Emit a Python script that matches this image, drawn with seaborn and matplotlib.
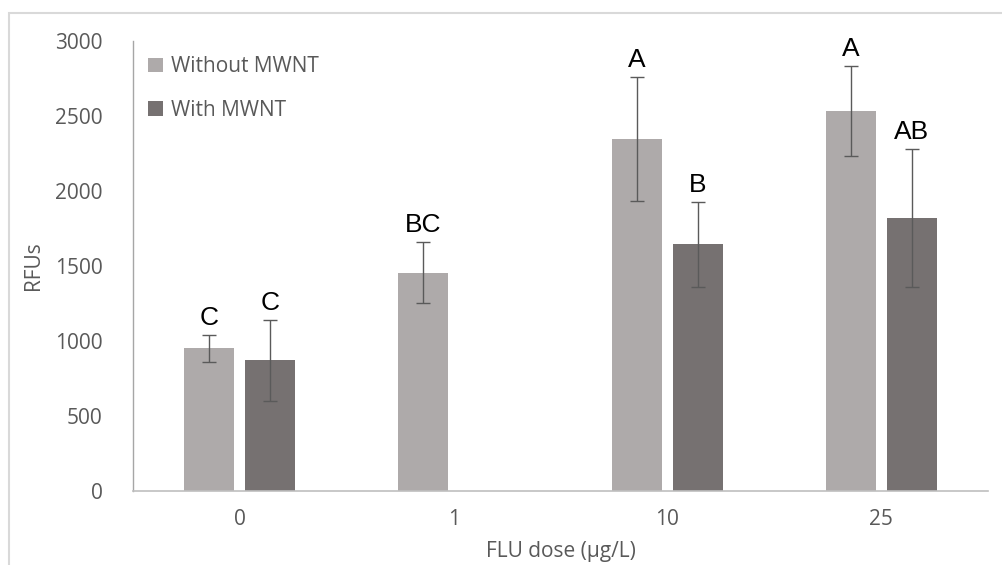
import numpy as np
import pandas as pd
import seaborn as sns
import matplotlib.pyplot as plt
from matplotlib.patches import Rectangle

doses = ['0', '1', '10', '25']
series = ['Without MWNT', 'With MWNT']
without_mwnt = [953, 1455, 2347, 2533]
without_err = [90, 205, 415, 300]
with_mwnt = [873, np.nan, 1645, 1820]
with_err = [270, np.nan, 283, 463]
letters_without = ['C', 'BC', 'A', 'A']
letters_with = ['C', '', 'B', 'AB']

colors = {'Without MWNT': '#aeaaaa', 'With MWNT': '#767171'}
text_grey = '#595959'

sns.set_theme(style='white')
plt.rcParams['font.family'] = ['Open Sans', 'DejaVu Sans']

rows = []
for d, v in zip(doses, without_mwnt):
    rows.append({'dose': d, 'group': 'Without MWNT', 'RFUs': v})
for d, v in zip(doses, with_mwnt):
    if not np.isnan(v):
        rows.append({'dose': d, 'group': 'With MWNT', 'RFUs': v})
df = pd.DataFrame(rows)

fig = plt.figure(figsize=(10.02, 5.65), dpi=100)
ax = fig.add_axes([0.1327, 0.131, 0.8533, 0.7964])

sns.barplot(data=df, x='dose', y='RFUs', hue='group', order=doses,
            hue_order=series, palette=colors, width=0.57, gap=0.18,
            errorbar=None, ax=ax, saturation=1, edgecolor='none')

# error bars and significance letters, located from the drawn bars
info = {'Without MWNT': (without_mwnt, without_err, letters_without),
        'With MWNT': (with_mwnt, with_err, letters_with)}
for cont, name in zip(ax.containers, series):
    vals, errs, lets = info[name]
    for bar in cont:
        xc = bar.get_x() + bar.get_width() / 2
        i = int(round(xc))
        if np.isnan(vals[i]):
            continue
        ax.errorbar(xc, vals[i], yerr=errs[i], fmt='none', ecolor='#5a5a5a',
                    elinewidth=1, capsize=5, capthick=1)
        ax.annotate(lets[i], (xc, vals[i] + errs[i]), xytext=(0, 7),
                    textcoords='offset points', ha='center', va='baseline',
                    fontsize=19, color='black', family='Liberation Sans')

ax.set_ylim(0, 3000)
ax.set_yticks(range(0, 3001, 500))
ax.set_xlim(-0.5, 3.5)
ax.tick_params(axis='both', length=0, labelsize=15, colors=text_grey)
ax.tick_params(axis='y', pad=22)
ax.tick_params(axis='x', pad=13)
ax.set_xlabel('FLU dose (µg/L)', fontsize=15, color=text_grey, labelpad=8)
ax.set_ylabel('RFUs', fontsize=15, color=text_grey, labelpad=8)

for s in ['top', 'right']:
    ax.spines[s].set_visible(False)
ax.spines['left'].set_color('#a6a6a6')
ax.spines['bottom'].set_color('#bfbfbf')
ax.spines['left'].set_linewidth(1)
ax.spines['bottom'].set_linewidth(1.2)

ax.legend(loc='upper left', bbox_to_anchor=(0.008, 0.985), frameon=False,
          fontsize=15, handlelength=0.7, handleheight=0.7, handletextpad=0.4,
          labelspacing=1.1, labelcolor=text_grey, borderaxespad=0)

fig.patches.append(Rectangle((8.5 / 1002, -0.05), 1.1, 1 - 13 / 565 + 0.05,
                             transform=fig.transFigure, fill=False,
                             edgecolor='#d9d9d9', linewidth=1.5))

fig.savefig('out.png', dpi=100)
